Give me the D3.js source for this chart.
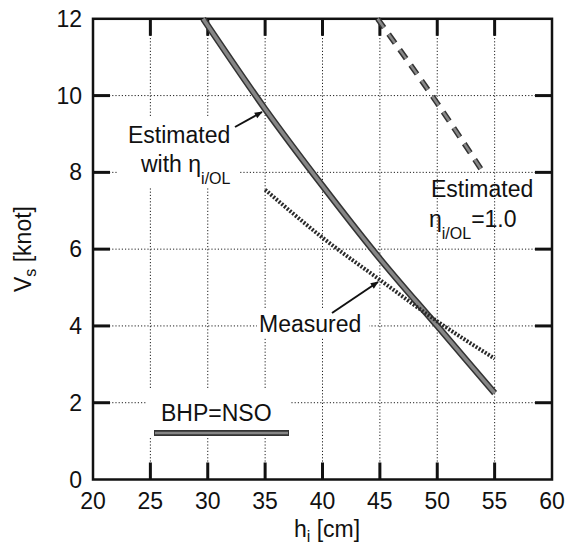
<!DOCTYPE html>
<html>
<head>
<meta charset="utf-8">
<script src="https://cdn.jsdelivr.net/npm/d3@7"></script>
<style>
  html, body { margin: 0; padding: 0; background: #fff; }
  svg { display: block; font-family: "Liberation Sans", Arial, sans-serif; }
</style>
</head>
<body>
<svg id="chart" width="567" height="547"></svg>
<script>
// Ship speed vs ice thickness
const xTicks = [20, 25, 30, 35, 40, 45, 50, 55, 60];
const yTicks = [0, 2, 4, 6, 8, 10, 12];

// Estimated with eta_i/OL (solid)
const hEstimated = [29.6, 35, 40, 45, 50, 55];
const vEstimated = [12, 9.65, 7.65, 5.75, 4.0, 2.25];

// Estimated with eta_i/OL = 1.0 (dashed)
const hEstimatedUnit = [44.8, 50, 54];
const vEstimatedUnit = [12, 9.8, 8.0];

// Measured (dotted)
const hMeasured = [35, 40, 45, 50, 55];
const vMeasured = [7.55, 6.3, 5.2, 4.12, 3.15];

const svg = d3.select("#chart");
const x = d3.scaleLinear().domain([20, 60]).range([93, 552]);
const y = d3.scaleLinear().domain([0, 12]).range([479.5, 18.8]);
const [x0, x1] = x.range();
const [y0, y1] = y.range();
const ink = "#111";
const fs = 23;

svg.append("defs").append("marker")
  .attr("id", "arrow")
  .attr("viewBox", "0 0 10 10")
  .attr("refX", 9).attr("refY", 5)
  .attr("markerWidth", 12).attr("markerHeight", 8)
  .attr("markerUnits", "userSpaceOnUse")
  .attr("orient", "auto")
  .append("path").attr("d", "M0,1 L10,5 L0,9 Z").attr("fill", ink);

// grid
const grid = svg.append("g").attr("stroke", "#222").attr("stroke-width", 1)
  .attr("stroke-dasharray", "1.2,2");
grid.selectAll("line.vx").data(xTicks.slice(1, -1)).join("line")
  .attr("x1", d => x(d)).attr("x2", d => x(d)).attr("y1", y1).attr("y2", y0);
grid.selectAll("line.hy").data(yTicks.slice(1, -1)).join("line")
  .attr("y1", d => y(d)).attr("y2", d => y(d)).attr("x1", x0).attr("x2", x1);

// white boxes behind the labels
const boxes = svg.append("g").attr("fill", "#fff");
boxes.append("rect").attr("x", 118).attr("y", 116).attr("width", 121).attr("height", 72);
boxes.append("rect").attr("x", 257).attr("y", 310).attr("width", 112).attr("height", 28);
boxes.append("rect").attr("x", 147).attr("y", 390).attr("width", 143).attr("height", 46);

// frame and inward ticks on all sides
const axes = svg.append("g").attr("stroke", ink);
axes.append("rect").attr("x", x0).attr("y", y1).attr("width", x1 - x0).attr("height", y0 - y1)
  .attr("fill", "none").attr("stroke-width", 2.5);
const tk = 17;
const tickG = axes.append("g").attr("stroke-width", 3);
xTicks.slice(1, -1).forEach(d => {
  tickG.append("line").attr("x1", x(d)).attr("x2", x(d)).attr("y1", y0).attr("y2", y0 - tk);
  tickG.append("line").attr("x1", x(d)).attr("x2", x(d)).attr("y1", y1).attr("y2", y1 + tk);
});
yTicks.slice(1, -1).forEach(d => {
  tickG.append("line").attr("y1", y(d)).attr("y2", y(d)).attr("x1", x0).attr("x2", x0 + tk);
  tickG.append("line").attr("y1", y(d)).attr("y2", y(d)).attr("x1", x1).attr("x2", x1 - tk);
});

// tick labels
svg.append("g").selectAll("text").data(xTicks).join("text")
  .attr("x", d => x(d)).attr("y", 509)
  .attr("text-anchor", "middle").attr("font-size", fs).attr("fill", ink)
  .text(d => d);
svg.append("g").selectAll("text").data(yTicks).join("text")
  .attr("x", 82).attr("y", d => y(d) + 8)
  .attr("text-anchor", "end").attr("font-size", fs).attr("fill", ink)
  .text(d => d);

// axis titles
const xt = svg.append("text").attr("x", 327).attr("y", 537)
  .attr("text-anchor", "middle").attr("font-size", fs).attr("fill", ink);
xt.append("tspan").text("h");
xt.append("tspan").attr("font-size", 16).attr("dy", 5).text("i");
xt.append("tspan").attr("dy", -5).text(" [cm]");

const yt = svg.append("text").attr("transform", "translate(31,249) rotate(-90)")
  .attr("text-anchor", "middle").attr("font-size", fs).attr("fill", ink);
yt.append("tspan").text("V");
yt.append("tspan").attr("font-size", 16).attr("dy", 5).text("s");
yt.append("tspan").attr("dy", -5).text(" [knot]");

// series
const line = d3.line().x(d => x(d[0])).y(d => y(d[1])).curve(d3.curveMonotoneX);
const plot = svg.append("g").attr("fill", "none").attr("stroke-linecap", "butt");

const est = d3.zip(hEstimated, vEstimated);
plot.append("path").attr("d", line(est)).attr("stroke", "#333").attr("stroke-width", 6.5);
plot.append("path").attr("d", line(est)).attr("stroke", "#868686").attr("stroke-width", 3.5);

const estUnit = d3.zip(hEstimatedUnit, vEstimatedUnit);
plot.append("path").attr("d", line(estUnit)).attr("stroke", "#333").attr("stroke-width", 5.5)
  .attr("stroke-dasharray", "11,8");
plot.append("path").attr("d", line(estUnit)).attr("stroke", "#888").attr("stroke-width", 2.5)
  .attr("stroke-dasharray", "11,8");

const meas = d3.zip(hMeasured, vMeasured);
plot.append("path").attr("d", line(meas)).attr("stroke", "#2a2a2a").attr("stroke-width", 4)
  .attr("stroke-dasharray", "2,1.6");

// labels
const lab = svg.append("g").attr("font-size", fs).attr("fill", ink);
lab.append("text").attr("x", 128).attr("y", 143).text("Estimated");
const w = lab.append("text").attr("x", 141).attr("y", 172);
w.append("tspan").text("with η");
w.append("tspan").attr("font-size", 16).attr("dy", 12).text("i/OL");

lab.append("text").attr("x", 431).attr("y", 197).text("Estimated");
const e1 = lab.append("text").attr("x", 429).attr("y", 227);
e1.append("tspan").text("η");
e1.append("tspan").attr("font-size", 16).attr("dy", 12).text("i/OL");
e1.append("tspan").attr("dy", -12).text("=1.0");

lab.append("text").attr("x", 259).attr("y", 332).text("Measured");
lab.append("text").attr("x", 161).attr("y", 421).text("BHP=NSO");

// arrows
svg.append("line").attr("x1", 235).attr("y1", 127).attr("x2", 262).attr("y2", 112)
  .attr("stroke", ink).attr("stroke-width", 2).attr("marker-end", "url(#arrow)");
svg.append("line").attr("x1", 332).attr("y1", 313).attr("x2", 378).attr("y2", 282)
  .attr("stroke", ink).attr("stroke-width", 2).attr("marker-end", "url(#arrow)");

// legend swatch
svg.append("line").attr("x1", 154).attr("x2", 289).attr("y1", 433).attr("y2", 433)
  .attr("stroke", "#333").attr("stroke-width", 6);
svg.append("line").attr("x1", 155).attr("x2", 288).attr("y1", 433).attr("y2", 433)
  .attr("stroke", "#868686").attr("stroke-width", 2.5);
</script>
</body>
</html>
